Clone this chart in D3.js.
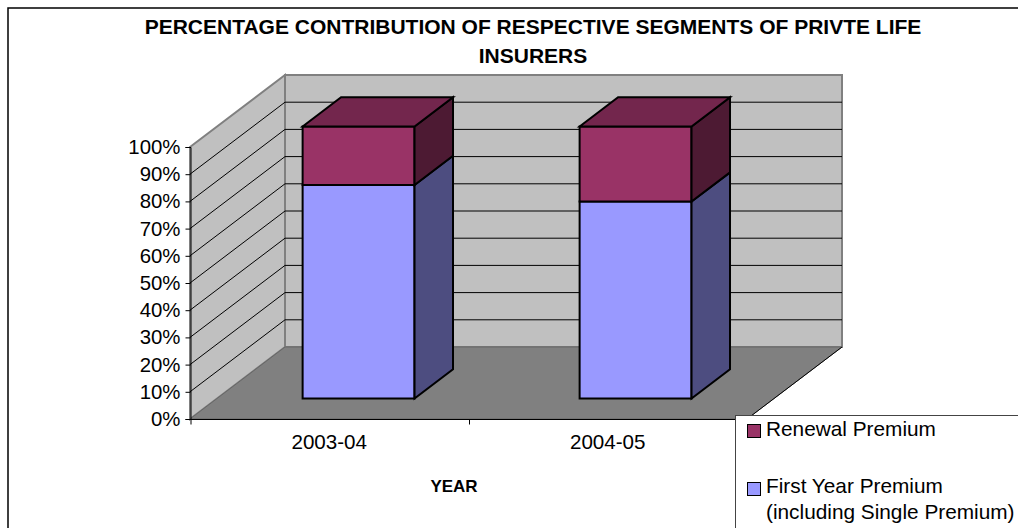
<!DOCTYPE html>
<html><head><meta charset="utf-8">
<script src="https://cdnjs.cloudflare.com/ajax/libs/d3/7.8.5/d3.min.js"></script>
<style>html,body{margin:0;padding:0;background:#fff;overflow:hidden}svg{display:block}text{font-family:"Liberation Sans",Arial,sans-serif;fill:#000}</style>
</head><body><svg id="c" width="1018" height="528"></svg>
<script>
const titleLines=["PERCENTAGE CONTRIBUTION OF RESPECTIVE SEGMENTS OF PRIVTE LIFE","INSURERS"];
const categories=["2003-04","2004-05"];
const firstYear=[78.5,72.4];
const renewal=[21.5,27.6];
const yTicks=d3.range(0,101,10);
const xTitle="YEAR";
const legendLines=[["Renewal Premium"],["First Year Premium","(including Single Premium)"]];

const svg=d3.select("#c");
const plotL=190,plotR=747,y0=419,y100=147,depthX=95,depthY=72;
const y=d3.scaleLinear().domain([0,100]).range([y0,y100]);
const xAxisScale=d3.scaleBand().domain(categories).range([plotL,plotR]);
const xBar=d3.scaleBand().domain(categories).range([193,747]).paddingInner(0.596).paddingOuter(0.298);
const P=(x,v,d)=>[x+d*depthX,y(v)-d*depthY];
const poly=(pts,fill,stroke,sw)=>svg.append("polygon").attr("points",pts.map(p=>p.join(",")).join(" ")).attr("fill",fill).attr("stroke",stroke||"none").attr("stroke-width",sw||0).attr("stroke-linejoin","miter");

svg.append("rect").attr("x",8).attr("y",8).attr("width",1030).attr("height",540).attr("fill","#fff").attr("stroke","#000").attr("stroke-width",1.5);

// walls and floor
poly([P(plotL,100,0),P(plotL,100,1),P(plotL,0,1),P(plotL,0,0)],"#c0c0c0","#808080",2);
poly([P(plotL,100,1),P(plotR,100,1),P(plotR,0,1),P(plotL,0,1)],"#c0c0c0","#808080",2);
yTicks.filter(t=>t>0&&t<100).forEach(t=>{
  const a=P(plotL,t,0),b=P(plotL,t,1),c=P(plotR,t,1);
  svg.append("polyline").attr("points",[a,b,c].map(p=>p.join(",")).join(" ")).attr("fill","none").attr("stroke","#000").attr("stroke-width",1);
});
poly([P(plotL,0,0),P(plotL,0,1),P(plotR,0,1),P(plotR,0,0)],"#808080","#666",1);
svg.append("line").attr("x1",P(plotR,0,1)[0]).attr("y1",P(plotR,0,1)[1]).attr("x2",P(plotR,0,0)[0]).attr("y2",P(plotR,0,0)[1]).attr("stroke","#000");

// axes
const ga=svg.append("g").attr("transform",`translate(${plotL+0.5},0)`)
  .call(d3.axisLeft(y).tickValues(yTicks).tickFormat(d=>d+"%").tickSize(5).tickPadding(5));
ga.selectAll("text").attr("font-size",20.4).attr("font-family","Liberation Sans");
ga.selectAll("path,line").attr("stroke","#000").attr("stroke-width",1);
const gx=svg.append("g").attr("transform",`translate(0,${y0+0.5})`)
  .call(d3.axisBottom(d3.scalePoint().domain(["a","b","c"]).range([plotL+.5,plotR+.5])).tickFormat(""));
gx.selectAll("path,line").attr("stroke","#000").attr("stroke-width",1);
gx.selectAll("line").attr("y2",5);
gx.select("path").attr("d",`M${plotL},0H${plotR}`);
categories.forEach(c=>svg.append("text").attr("x",xAxisScale(c)+xAxisScale.bandwidth()/2).attr("y",449).attr("text-anchor","middle").attr("font-size",20.6).text(c));

// bars
const d1=0.285,d2=0.69,sw=2;
function seg(x0,x1,a,b,front,top,side){
  poly([P(x0,b,d1),P(x1,b,d1),P(x1,a,d1),P(x0,a,d1)],front,"#000",sw);
  poly([P(x1,a,d1),P(x1,b,d1),P(x1,b,d2),P(x1,a,d2)],side,"#000",sw);
  if(top) poly([P(x0,b,d1),P(x0,b,d2),P(x1,b,d2),P(x1,b,d1)],top,"#000",sw);
}
categories.forEach((c,i)=>{
  const x0=xBar(c),x1=x0+xBar.bandwidth();
  seg(x0,x1,0,firstYear[i],"#9999ff",null,"#4d4d80");
  seg(x0,x1,firstYear[i],firstYear[i]+renewal[i],"#993366","#73264d","#4d1a33");
});

// title
const titleY=[34,63];
titleLines.forEach((t,i)=>svg.append("text").attr("x",533).attr("y",titleY[i]).attr("text-anchor","middle").attr("font-size",21).attr("font-weight","bold").text(t));
svg.append("text").attr("x",454).attr("y",492).attr("text-anchor","middle").attr("font-size",17).attr("font-weight","bold").text(xTitle);

// legend
svg.append("rect").attr("x",735.5).attr("y",415.5).attr("width",320).attr("height",130).attr("fill","#fff").attr("stroke","#444");
const legendColors=["#993366","#9999ff"],legendY=[424.5,482.5],legendBase=[436,493];
legendLines.forEach((ls,i)=>{
  svg.append("rect").attr("x",747.5).attr("y",legendY[i]).attr("width",13).attr("height",13).attr("fill",legendColors[i]).attr("stroke","#000");
  ls.forEach((t,j)=>svg.append("text").attr("x",766).attr("y",legendBase[i]+j*26).attr("font-size",20.8).text(t));
});
</script></body></html>
